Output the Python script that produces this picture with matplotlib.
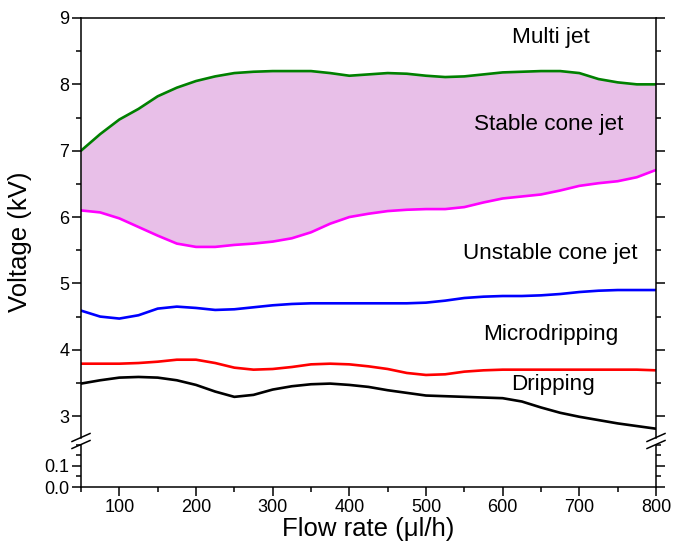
import matplotlib
matplotlib.use('Agg')
import matplotlib.pyplot as plt
from matplotlib.lines import Line2D
from matplotlib.ticker import MultipleLocator

plt.rcParams['font.family'] = ['Liberation Sans', 'DejaVu Sans']

# flow rate (ul/h), read every 25
flow = list(range(50, 801, 25))

multi_jet = [7.00, 7.25, 7.47, 7.63, 7.82, 7.95, 8.05, 8.12, 8.17, 8.19, 8.20,
             8.20, 8.20, 8.17, 8.13, 8.15, 8.17, 8.16, 8.13, 8.11, 8.12, 8.15,
             8.18, 8.19, 8.20, 8.20, 8.17, 8.08, 8.03, 8.00, 8.00]
stable = [6.10, 6.07, 5.98, 5.85, 5.72, 5.60, 5.55, 5.55, 5.58, 5.60, 5.63,
          5.68, 5.77, 5.90, 6.00, 6.05, 6.09, 6.11, 6.12, 6.12, 6.15, 6.22,
          6.28, 6.31, 6.34, 6.40, 6.47, 6.51, 6.54, 6.60, 6.71]
unstable = [4.59, 4.50, 4.47, 4.52, 4.62, 4.65, 4.63, 4.60, 4.61, 4.64, 4.67,
            4.69, 4.70, 4.70, 4.70, 4.70, 4.70, 4.70, 4.71, 4.74, 4.78, 4.80,
            4.81, 4.81, 4.82, 4.84, 4.87, 4.89, 4.90, 4.90, 4.90]
micro = [3.79, 3.79, 3.79, 3.80, 3.82, 3.85, 3.85, 3.80, 3.73, 3.70, 3.71,
         3.74, 3.78, 3.79, 3.78, 3.75, 3.71, 3.65, 3.62, 3.63, 3.67, 3.69,
         3.70, 3.70, 3.70, 3.70, 3.70, 3.70, 3.70, 3.70, 3.69]
drip = [3.49, 3.54, 3.58, 3.59, 3.58, 3.54, 3.47, 3.37, 3.29, 3.32, 3.40,
        3.45, 3.48, 3.49, 3.47, 3.44, 3.39, 3.35, 3.31, 3.30, 3.29, 3.28,
        3.27, 3.22, 3.13, 3.05, 2.99, 2.94, 2.89, 2.85, 2.81]

regions = ['Multi jet', 'Stable cone jet', 'Unstable cone jet', 'Microdripping', 'Dripping']
region_x = [663, 660, 662, 663, 666]
region_y = [8.7, 7.39, 5.45, 4.23, 3.48]

W, H = 673, 543
fig = plt.figure(figsize=(W / 100, H / 100), dpi=100)
L, R = 81 / W, 656 / W
ax = fig.add_axes([L, 1 - 438 / H, R - L, (438 - 18) / H])
ax2 = fig.add_axes([L, 1 - 487 / H, R - L, (487 - 444.5) / H])

ax.fill_between(flow, stable, multi_jet, color='#E8BFE8', lw=0)
style = dict(lw=1.9, solid_joinstyle='round', solid_capstyle='round')
ax.plot(flow, multi_jet, color='#008000', **style)
ax.plot(flow, stable, color='#FF00FF', **style)
ax.plot(flow, unstable, color='#0000FF', **style)
ax.plot(flow, micro, color='#FF0000', **style)
ax.plot(flow, drip, color='black', **style)

for t, x, y in zip(regions, region_x, region_y):
    ax.text(x, y, t, fontsize=16.2, ha='center', va='center')

ax.set_xlim(50, 800)
ax.set_ylim(2.67, 9)
ax2.set_xlim(50, 800)
ax2.set_ylim(0, 0.2)

ax.spines['bottom'].set_visible(False)
ax2.spines['top'].set_visible(False)
for a in (ax, ax2):
    for s in a.spines.values():
        s.set_linewidth(1.1)
    a.tick_params(which='both', direction='out', width=1.1, labelsize=13,
                  left=True, right=True, pad=2)
    a.tick_params(which='major', length=6.5)
    a.tick_params(which='minor', length=3.3)

ax.yaxis.set_major_locator(MultipleLocator(1))
ax.yaxis.set_minor_locator(MultipleLocator(0.5))
ax.tick_params(axis='x', which='both', bottom=False, top=False, labelbottom=False)
ax2.yaxis.set_minor_locator(MultipleLocator(0.05))
ax2.yaxis.set_major_formatter(matplotlib.ticker.FormatStrFormatter('%.1f'))
ax2.set_yticks([0.0, 0.1])
ax2.xaxis.set_minor_locator(MultipleLocator(50))
ax2.set_xticks(range(100, 801, 100))
ax2.tick_params(axis='x', which='both', top=False)

# break marks
for xc in (81, 656):
    for yc in (437.5, 444.5):
        fig.add_artist(Line2D([(xc - 9) / W, (xc + 9) / W],
                              [1 - (yc + 4) / H, 1 - (yc - 4) / H],
                              color='black', lw=1.1, transform=fig.transFigure))

fig.text(368 / W, 1 - 529 / H, 'Flow rate (\u03bcl/h)', fontsize=18.5,
         ha='center', va='center')
fig.text(20 / W, 1 - 242 / H, 'Voltage (kV)', fontsize=18.5, rotation=90,
         ha='center', va='center')

fig.savefig('out.png', dpi=100)
